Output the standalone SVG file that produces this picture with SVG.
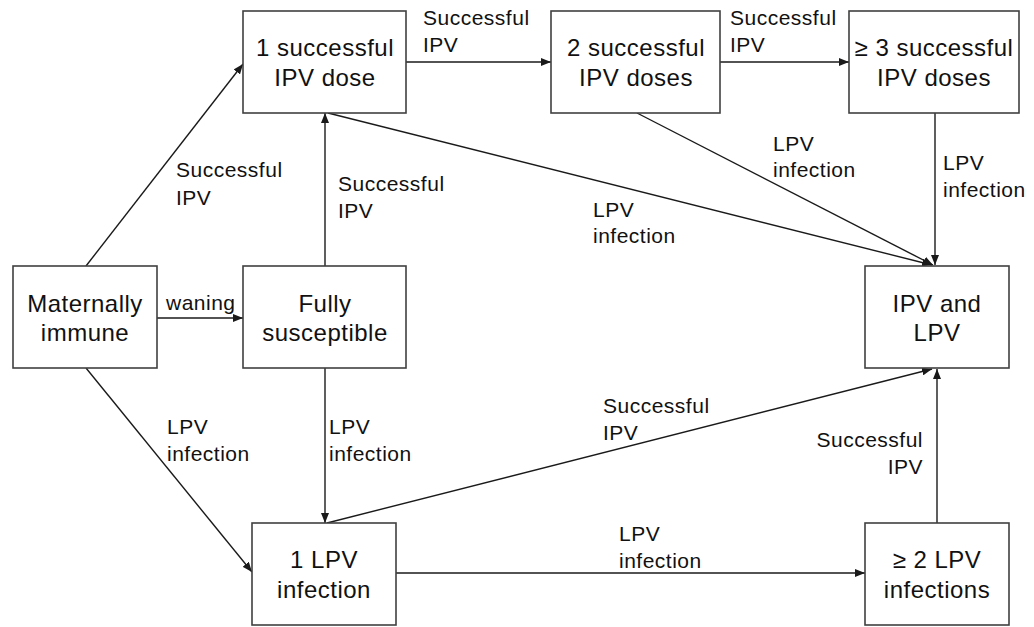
<svg xmlns="http://www.w3.org/2000/svg" width="1034" height="627" viewBox="0 0 1034 627">
<style>
.box{fill:#fff;stroke:#404040;stroke-width:1.6}
.edge{fill:none;stroke:#1a1a1a;stroke-width:1.4;marker-end:url(#ah)}
.nt{font-family:"Liberation Sans",Arial,sans-serif;font-size:24px;letter-spacing:0.5px;fill:#111;text-anchor:middle}
.lb{font-family:"Liberation Sans",Arial,sans-serif;font-size:21px;letter-spacing:0.5px;fill:#111}
</style>
<defs>
<marker id="ah" viewBox="0 0 10 8" refX="10" refY="4" markerWidth="10" markerHeight="8" markerUnits="userSpaceOnUse" orient="auto">
<path d="M0,0 L10,4 L0,8 Z" fill="#1a1a1a"/>
</marker>
</defs>
<rect width="1034" height="627" fill="#fff"/>
<g id="connectors">
<line class="edge" x1="86" y1="266" x2="243" y2="64"/>
<line class="edge" x1="157" y1="318" x2="243" y2="318"/>
<line class="edge" x1="325" y1="266" x2="325" y2="113"/>
<line class="edge" x1="406" y1="62" x2="551" y2="62"/>
<line class="edge" x1="720" y1="62" x2="849" y2="62"/>
<line class="edge" x1="328" y1="113" x2="932" y2="265"/>
<line class="edge" x1="637" y1="113" x2="933" y2="265"/>
<line class="edge" x1="935" y1="113" x2="935" y2="265"/>
<line class="edge" x1="325" y1="368" x2="325" y2="523"/>
<line class="edge" x1="86" y1="368" x2="252" y2="572"/>
<line class="edge" x1="327" y1="523" x2="932" y2="369"/>
<line class="edge" x1="396" y1="573" x2="865" y2="573"/>
<line class="edge" x1="937" y1="523" x2="937" y2="369"/>
</g>
<g id="n-ipv1">
<rect class="box" x="243" y="11" width="163" height="102"/>
<text class="nt" x="325" y="56">1 successful</text>
<text class="nt" x="325" y="86">IPV dose</text>
</g>
<g id="n-ipv2">
<rect class="box" x="551" y="11" width="169" height="102"/>
<text class="nt" x="636" y="56">2 successful</text>
<text class="nt" x="636" y="86">IPV doses</text>
</g>
<g id="n-ipv3">
<rect class="box" x="849" y="11" width="170" height="102"/>
<text class="nt" x="934" y="56">≥ 3 successful</text>
<text class="nt" x="934" y="86">IPV doses</text>
</g>
<g id="n-maternal">
<rect class="box" x="13" y="266" width="144" height="102"/>
<text class="nt" x="85" y="312">Maternally</text>
<text class="nt" x="85" y="341">immune</text>
</g>
<g id="n-susceptible">
<rect class="box" x="243" y="266" width="163" height="102"/>
<text class="nt" x="325" y="312">Fully</text>
<text class="nt" x="325" y="341">susceptible</text>
</g>
<g id="n-ipvlpv">
<rect class="box" x="865" y="266" width="144" height="102"/>
<text class="nt" x="937" y="312">IPV and</text>
<text class="nt" x="937" y="341">LPV</text>
</g>
<g id="n-lpv1">
<rect class="box" x="252" y="523" width="144" height="102"/>
<text class="nt" x="324" y="568">1 LPV</text>
<text class="nt" x="324" y="598">infection</text>
</g>
<g id="n-lpv2">
<rect class="box" x="865" y="523" width="144" height="102"/>
<text class="nt" x="937" y="568">≥ 2 LPV</text>
<text class="nt" x="937" y="598">infections</text>
</g>
<g id="labels">
<text class="lb" x="176" y="177">Successful</text>
<text class="lb" x="176" y="205">IPV</text>
<text class="lb" x="423" y="25">Successful</text>
<text class="lb" x="423" y="52">IPV</text>
<text class="lb" x="730" y="25">Successful</text>
<text class="lb" x="730" y="52">IPV</text>
<text class="lb" x="338" y="191">Successful</text>
<text class="lb" x="338" y="218">IPV</text>
<text class="lb" x="593" y="217">LPV</text>
<text class="lb" x="593" y="243">infection</text>
<text class="lb" x="773" y="151">LPV</text>
<text class="lb" x="773" y="177">infection</text>
<text class="lb" x="943" y="170">LPV</text>
<text class="lb" x="943" y="197">infection</text>
<text class="lb" x="166" y="310">waning</text>
<text class="lb" x="167" y="434">LPV</text>
<text class="lb" x="167" y="461">infection</text>
<text class="lb" x="329" y="434">LPV</text>
<text class="lb" x="329" y="461">infection</text>
<text class="lb" x="603" y="413">Successful</text>
<text class="lb" x="603" y="440">IPV</text>
<text class="lb" x="923" y="447" text-anchor="end">Successful</text>
<text class="lb" x="923" y="474" text-anchor="end">IPV</text>
<text class="lb" x="619" y="541">LPV</text>
<text class="lb" x="619" y="568">infection</text>
</g>
</svg>
